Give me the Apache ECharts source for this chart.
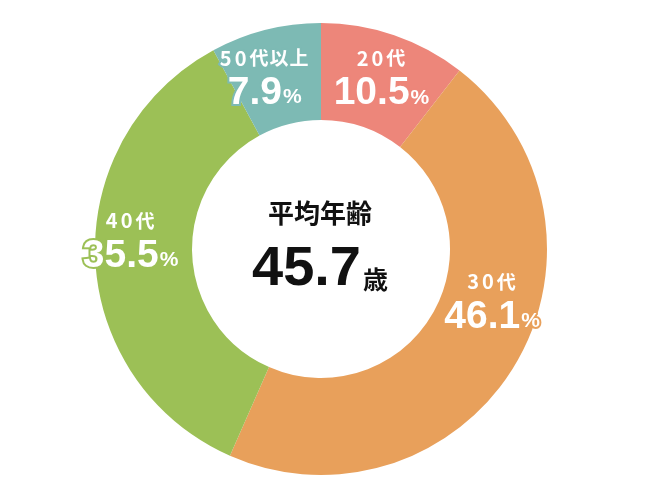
<!DOCTYPE html>
<html>
<head>
<meta charset="utf-8">
<script src="https://cdn.jsdelivr.net/npm/echarts@6/dist/echarts.min.js"></script>
<style>
html,body{margin:0;padding:0;background:#fff;}
#chart{width:650px;height:500px;}
</style>
</head>
<body>
<div id="chart"></div>
<script>
const categories = ['20代', '30代', '40代', '50代以上'];
const values = [10.5, 46.1, 35.5, 7.9];
const centerTitle = '平均年齢';
const averageAge = '45.7';
const ageUnit = '歳';

const colors = ['#ED867A', '#E8A05B', '#9CC056', '#7DBAB4'];
const labelOffsets = [[2, 1], [16, -39], [-10, -15], [-12, 5]];

const chart = echarts.init(document.getElementById('chart'), null, {renderer: 'canvas'});

const data = categories.map((c, i) => ({
  name: c,
  value: values[i],
  itemStyle: {color: colors[i]},
  label: {textBorderColor: colors[i]}
}));

function catText(name) {
  return Array.from(name).map(ch => (/[0-9]/.test(ch) ? '{d|' + ch + '}' : '{cat|' + ch + '}')).join('');
}

chart.setOption({
  animation: false,
  backgroundColor: '#fff',
  series: [{
    type: 'pie',
    center: [321, 249],
    radius: [129, 226],
    startAngle: 90,
    clockwise: true,
    avoidLabelOverlap: false,
    silent: true,
    emphasis: {disabled: true},
    labelLine: {show: false},
    label: {
      show: true,
      position: 'inside',
      color: '#fff',
      textBorderWidth: 4,
      formatter: p => catText(p.name) + '\n{num|' + p.value.toFixed(1) + '}{pct|%}',
      rich: {
        cat: {
          fontFamily: '"Noto Sans CJK JP", sans-serif',
          fontWeight: 'bold',
          fontSize: 19,
          lineHeight: 26,
          padding: [0, 1, 0, 0],
          color: '#fff'
        },
        d: {
          fontFamily: '"Noto Sans CJK JP", sans-serif',
          fontWeight: 'bold',
          fontSize: 20,
          lineHeight: 26,
          padding: [0, 3, 0, 0],
          color: '#fff'
        },
        num: {
          fontFamily: '"Liberation Sans", Arial, sans-serif',
          fontWeight: 'bold',
          fontSize: 39,
          lineHeight: 42,
          verticalAlign: 'bottom',
          color: '#fff'
        },
        pct: {
          fontFamily: '"Liberation Sans", Arial, sans-serif',
          fontWeight: 'bold',
          fontSize: 21,
          lineHeight: 21,
          verticalAlign: 'bottom',
          padding: [0, 0, 5, 1],
          color: '#fff'
        }
      }
    },
    labelLayout: function (params) {
      const o = labelOffsets[params.dataIndex];
      return {dx: o[0], dy: o[1]};
    },
    data: data
  }],
  graphic: [
    {
      type: 'text',
      x: 320,
      y: 213,
      style: {
        text: centerTitle,
        fill: '#111',
        fontFamily: '"Noto Sans CJK JP", sans-serif',
        fontWeight: 'bold',
        fontSize: 26,
        textAlign: 'center',
        textVerticalAlign: 'middle'
      }
    },
    {
      type: 'text',
      x: 320,
      y: 270,
      style: {
        text: '{a|' + averageAge + '}{b|' + ageUnit + '}',
        textAlign: 'center',
        textVerticalAlign: 'middle',
        rich: {
          a: {
            fontFamily: '"Liberation Sans", Arial, sans-serif',
            fontWeight: 'bold',
            fontSize: 56,
            lineHeight: 56,
            verticalAlign: 'bottom',
            fill: '#111'
          },
          b: {
            fontFamily: '"Noto Sans CJK JP", sans-serif',
            fontWeight: 'bold',
            fontSize: 25,
            lineHeight: 25,
            verticalAlign: 'bottom',
            padding: [0, 0, 6, 2],
            fill: '#111'
          }
        }
      }
    }
  ]
});
</script>
</body>
</html>
